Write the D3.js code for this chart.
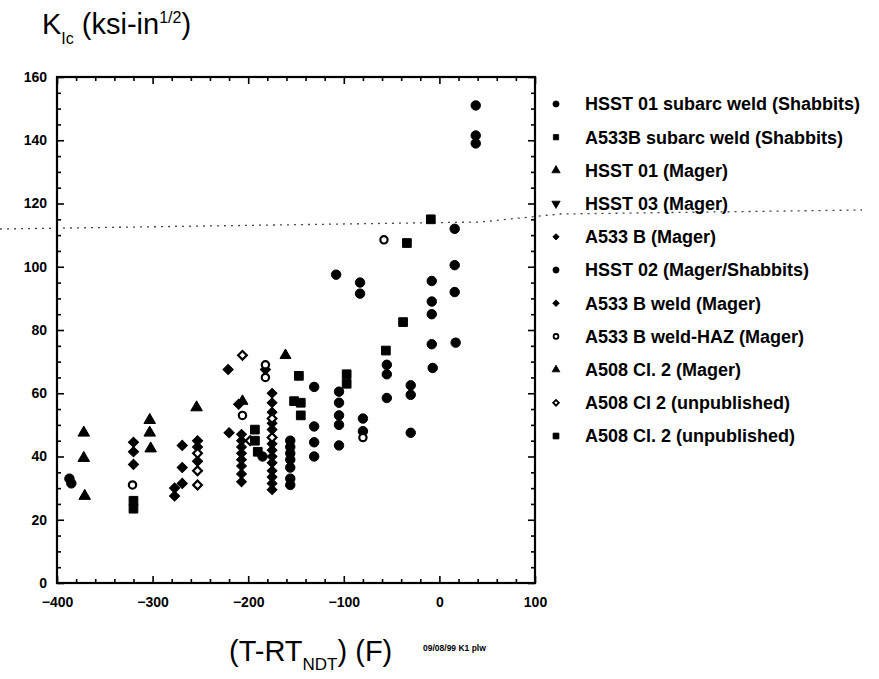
<!DOCTYPE html>
<html>
<head>
<meta charset="utf-8">
<script src="https://cdn.jsdelivr.net/npm/d3@7"></script>
<style>
  html, body { margin: 0; padding: 0; background: #fff; }
  svg { display: block; }
  text { font-family: "Liberation Sans", Arial, Helvetica, sans-serif; fill: #000; }
</style>
</head>
<body>
<svg id="chart" width="879" height="679"></svg>
<script>
// ---------------- data ----------------
const seriesNames = [
  "HSST 01 subarc weld (Shabbits)",
  "A533B subarc weld (Shabbits)",
  "HSST 01 (Mager)",
  "HSST 03 (Mager)",
  "A533 B (Mager)",
  "HSST 02 (Mager/Shabbits)",
  "A533 B weld (Mager)",
  "A533 B weld-HAZ (Mager)",
  "A508 Cl. 2 (Mager)",
  "A508 Cl 2 (unpublished)",
  "A508 Cl. 2 (unpublished)"
];

// [T - RT_NDT (F), K_Ic (ksi-in^1/2)]
const hsst01Subarc = [[38,151],[38,141.5],[38,139],[16,112],[16,100.5],[16,92],[17,76],
  [-8,95.5],[-8,89],[-8,85],[-8,75.5],[-7,68]];
const a533bSubarc = [[-9,115],[-34,107.5],[-38,82.5],[-56,73.5],[-97,66],[-97,63]];
const hsst01Mager = [[-372,47.5],[-372,39.5],[-371,27.5],[-303,51.5],[-303,47.5],[-302,42.5],[-254,55.5]];
const hsst03Mager = [];
const a533bMager = [[-207,47],[-207,45],[-207,43],[-207,41],[-207,39],[-207,37],[-207,34.5],[-207,32],
  [-175,60],[-175,57],[-175,54],[-175,50.5],[-175,48.5],[-175,44],[-175,42],[-175,40],[-175,38],
  [-175,35.5],[-175,33.5],[-175,31.5],[-175,29.5]];
const hsst02 = [[-387,33],[-385,31.5],[-108,97.5],[-83,95],[-83,91.5],[-131,62],[-131,49.5],[-131,44.5],
  [-131,40],[-105,60.5],[-105,57],[-105,53],[-105,50],[-105,43.5],[-80,52],[-80,48],[-55,69],[-55,66],
  [-55,58.5],[-30,62.5],[-30,59.5],[-30,47.5],[-156,45],[-156,43],[-156,41],[-156,39],[-156,36.5],
  [-156,33],[-156,31],[-185,40]];
const a533bWeld = [[-320,44.5],[-320,41.5],[-320,37.5],[-269,43.5],[-269,36.5],[-269,31.5],[-277,30],
  [-277,27.5],[-253,45],[-253,43],[-253,38.5],[-221,67.5],[-220,47.5],[-182,67.5],[-210,56.5]];
const a533bWeldHaz = [[-321,31],[-58,108.5],[-80,46],[-182,69],[-182,65],[-206,53]];
const a508Mager = [[-206,57.5],[-161,72]];
const a508UnpubOpen = [[-253,41],[-253,35.5],[-253,31],[-206,72],[-175,52],[-175,46],[-198,45]];
const a508UnpubSq = [[-320,26],[-320,23.5],[-193,48.5],[-193,45],[-190,41.5],[-147,65.5],[-152,57.5],
  [-145,57],[-145,53]];

const seriesData = [hsst01Subarc, a533bSubarc, hsst01Mager, hsst03Mager, a533bMager, hsst02,
  a533bWeld, a533bWeldHaz, a508Mager, a508UnpubOpen, a508UnpubSq];

const xTicks = [-400, -300, -200, -100, 0, 100];
const yTicks = [0, 20, 40, 60, 80, 100, 120, 140, 160];

// ---------------- styling (not data) ----------------
const markerStyle = [
  {kind: "circle",   fill: true,  size: 70, lsize: 30},
  {kind: "square",   fill: true,  size: 76, lsize: 28},
  {kind: "triUp",    fill: true,  size: 58, lsize: 30},
  {kind: "triDown",  fill: true,  size: 58, lsize: 30},
  {kind: "diamond",  fill: true,  size: 48, lsize: 20},
  {kind: "circle",   fill: true,  size: 70, lsize: 30},
  {kind: "diamond",  fill: true,  size: 52, lsize: 22},
  {kind: "circle",   fill: false, size: 42, lsize: 18},
  {kind: "triUp",    fill: true,  size: 52, lsize: 26},
  {kind: "diamond",  fill: false, size: 38, lsize: 16},
  {kind: "square",   fill: true,  size: 76, lsize: 34}
];

function symbolPath(kind, size) {
  const typeMap = {circle: d3.symbolCircle, square: d3.symbolSquare, triUp: d3.symbolTriangle,
    triDown: d3.symbolTriangle, diamond: d3.symbolSquare};
  return d3.symbol().type(typeMap[kind]).size(size)();
}
function symbolRotate(kind) {
  if (kind === "triDown") return 180;
  if (kind === "diamond") return 45;
  return 0;
}

const svg = d3.select("#chart");

const x = d3.scaleLinear().domain([-400, 100]).range([57, 535]);
const y = d3.scaleLinear().domain([0, 160]).range([583, 77]);

const x0 = x.range()[0], x1 = x.range()[1];
const y0 = y.range()[0], y1 = y.range()[1];

// scan fold artifact: faint dotted line
svg.append("path")
  .attr("d", d3.line()([[0, 229], [480, 222], [560, 214], [862, 210]]))
  .attr("fill", "none")
  .attr("stroke", "#444")
  .attr("stroke-width", 1.3)
  .attr("stroke-dasharray", "2,5");

// ---------------- axes ----------------
const xMinor = d3.range(-400, 101, 20).filter(v => v % 100 !== 0);
const yMinor = d3.range(0, 161, 5).filter(v => v % 20 !== 0);

function styleAxis(g) {
  g.select(".domain").remove();
  g.selectAll(".tick line").attr("stroke", "#000").attr("stroke-width", 1.6);
  g.selectAll(".tick text")
    .style("font-family", '"Liberation Sans", Arial, sans-serif')
    .style("font-weight", "bold")
    .style("font-size", "14px")
    .attr("fill", "#000");
}

// bottom
svg.append("g").attr("transform", `translate(0,${y0})`)
  .call(d3.axisBottom(x).tickValues(xTicks).tickSize(-7).tickPadding(14).tickFormat(d3.format("d")))
  .call(styleAxis);
svg.append("g").attr("transform", `translate(0,${y0})`)
  .call(d3.axisBottom(x).tickValues(xMinor).tickSize(-4).tickFormat(""))
  .call(styleAxis);
// top
svg.append("g").attr("transform", `translate(0,${y1})`)
  .call(d3.axisTop(x).tickValues(xTicks).tickSize(-7).tickFormat(""))
  .call(styleAxis);
svg.append("g").attr("transform", `translate(0,${y1})`)
  .call(d3.axisTop(x).tickValues(xMinor).tickSize(-4).tickFormat(""))
  .call(styleAxis);
// left
svg.append("g").attr("transform", `translate(${x0},0)`)
  .call(d3.axisLeft(y).tickValues(yTicks).tickSize(-7).tickPadding(10).tickFormat(d3.format("d")))
  .call(styleAxis);
svg.append("g").attr("transform", `translate(${x0},0)`)
  .call(d3.axisLeft(y).tickValues(yMinor).tickSize(-4).tickFormat(""))
  .call(styleAxis);
// right
svg.append("g").attr("transform", `translate(${x1},0)`)
  .call(d3.axisRight(y).tickValues(yTicks).tickSize(-7).tickFormat(""))
  .call(styleAxis);
svg.append("g").attr("transform", `translate(${x1},0)`)
  .call(d3.axisRight(y).tickValues(yMinor).tickSize(-4).tickFormat(""))
  .call(styleAxis);

// frame
svg.append("rect")
  .attr("x", x0).attr("y", y1)
  .attr("width", x1 - x0).attr("height", y0 - y1)
  .attr("fill", "none").attr("stroke", "#000").attr("stroke-width", 2.2);

// ---------------- points ----------------
seriesData.forEach((data, i) => {
  const st = markerStyle[i];
  svg.append("g").selectAll("path").data(data).enter().append("path")
    .attr("d", symbolPath(st.kind, st.size))
    .attr("transform", d => `translate(${x(d[0])},${y(d[1])}) rotate(${symbolRotate(st.kind)})`)
    .attr("fill", st.fill ? "#000" : "#fff")
    .attr("stroke", "#000")
    .attr("stroke-width", st.fill ? 1 : 2.2);
});

// ---------------- legend ----------------
const legY = d3.scaleLinear().domain([0, seriesNames.length - 1]).range([104, 436]);
const leg = svg.append("g");
seriesNames.forEach((name, i) => {
  const st = markerStyle[i];
  leg.append("path")
    .attr("d", symbolPath(st.kind, st.lsize))
    .attr("transform", `translate(556,${legY(i)}) rotate(${symbolRotate(st.kind)})`)
    .attr("fill", st.fill ? "#000" : "#fff")
    .attr("stroke", "#000")
    .attr("stroke-width", st.fill ? 0.8 : 1.8);
  leg.append("text")
    .attr("x", 585).attr("y", legY(i))
    .attr("dy", "0.36em")
    .style("font-weight", "bold")
    .style("font-size", "18px")
    .text(name);
});

// ---------------- titles ----------------
const yt = svg.append("text").attr("x", 42).attr("y", 34).style("font-size", "29px");
yt.append("tspan").text("K");
yt.append("tspan").attr("dy", 10).style("font-size", "16px").text("Ic");
yt.append("tspan").attr("dy", -10).text(" (ksi-in");
yt.append("tspan").attr("dy", -11).style("font-size", "16px").text("1/2");
yt.append("tspan").attr("dy", 11).text(")");

const xt = svg.append("text").attr("x", 229).attr("y", 661).style("font-size", "29px");
xt.append("tspan").text("(T-RT");
xt.append("tspan").attr("dy", 9).style("font-size", "17px").text("NDT");
xt.append("tspan").attr("dy", -9).text(") (F)");

svg.append("text")
  .attr("x", 423).attr("y", 651)
  .style("font-size", "8.5px").style("font-weight", "bold")
  .text("09/08/99 K1 plw");
</script>
</body>
</html>
